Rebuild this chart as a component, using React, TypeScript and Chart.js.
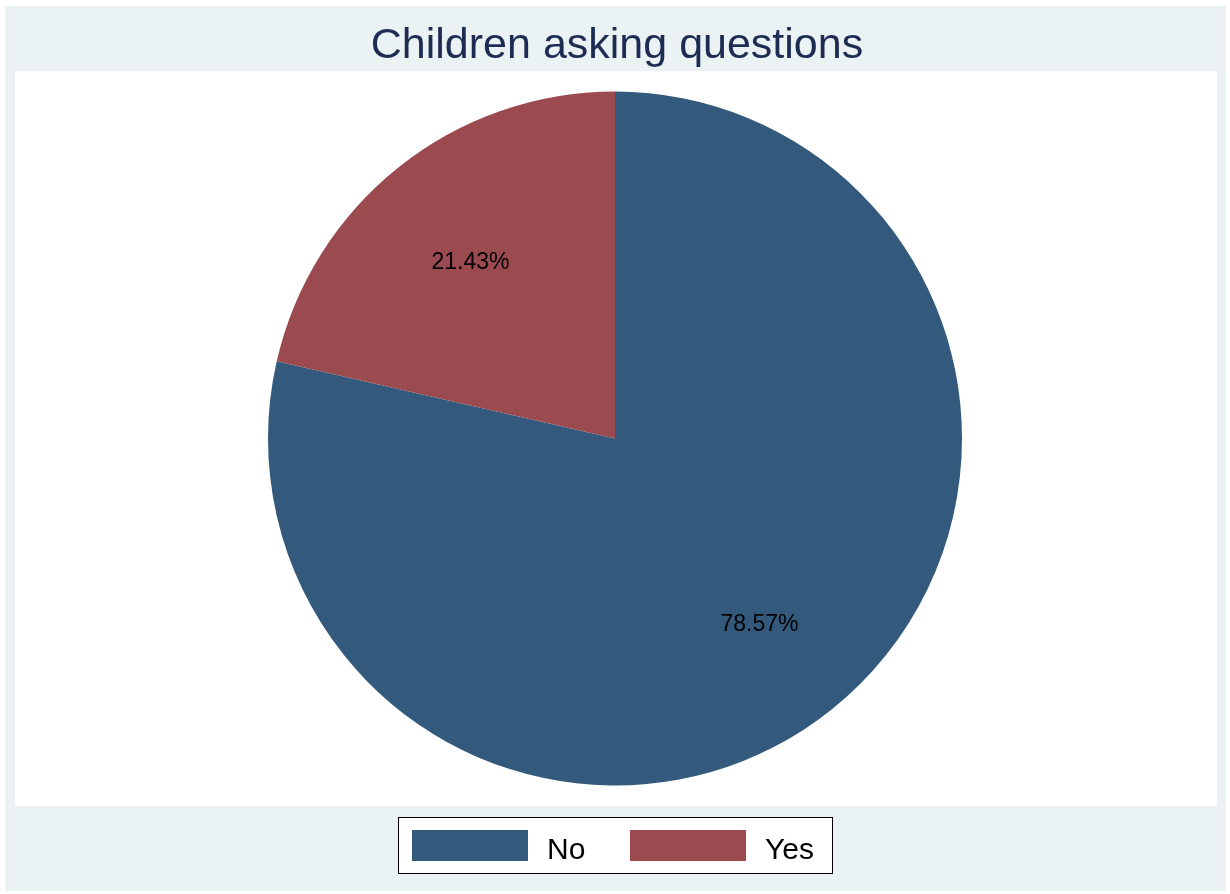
import React, { useEffect, useRef } from "react";
import { Chart, registerables } from "chart.js";

Chart.register(...registerables);

const categories = ["No", "Yes"];
const shares = [78.57, 21.43];
const labelsText = ["78.57%", "21.43%"];
const sliceColors = ["#335A7D", "#9B4A50"];
const titleText = "Children asking questions";

const FONT = '"Liberation Sans", Arial, Helvetica, sans-serif';

const framePlugin = {
  id: "stataFrame",
  beforeDraw(chart: any) {
    const ctx = chart.ctx;
    ctx.save();
    ctx.fillStyle = "#FFFFFF";
    ctx.fillRect(0, 0, chart.width, chart.height);
    ctx.fillStyle = "#EAF2F3";
    ctx.fillRect(5, 6, 1221, 885);
    ctx.fillStyle = "#FFFFFF";
    ctx.fillRect(15, 71, 1202, 735);
    // title
    ctx.fillStyle = "#1E2C54";
    ctx.font = `43px ${FONT}`;
    ctx.textAlign = "center";
    ctx.textBaseline = "alphabetic";
    ctx.fillText(titleText, 617, 58);
    // legend
    ctx.fillStyle = "#FFFFFF";
    ctx.fillRect(398.5, 817.5, 434, 56);
    ctx.strokeStyle = "#000000";
    ctx.lineWidth = 1;
    ctx.strokeRect(398.5, 817.5, 434, 56);
    const swX = [412, 630];
    const txX = [547, 765];
    ctx.font = `30px ${FONT}`;
    ctx.textAlign = "left";
    categories.forEach((c, i) => {
      ctx.fillStyle = sliceColors[i];
      ctx.fillRect(swX[i], 830, 116, 31);
      ctx.fillStyle = "#000000";
      ctx.fillText(c, txX[i], 859);
    });
    ctx.restore();
  },
  afterDatasetsDraw(chart: any) {
    const ctx = chart.ctx;
    const meta = chart.getDatasetMeta(0);
    ctx.save();
    ctx.fillStyle = "#000000";
    ctx.font = `23px ${FONT}`;
    ctx.textAlign = "center";
    ctx.textBaseline = "middle";
    meta.data.forEach((arc: any, i: number) => {
      const p = arc.getProps(["x", "y", "startAngle", "endAngle", "outerRadius"], true);
      const mid = (p.startAngle + p.endAngle) / 2;
      const r = p.outerRadius * 0.668;
      ctx.fillText(labelsText[i], p.x + Math.cos(mid) * r, p.y + Math.sin(mid) * r + 5);
    });
    ctx.restore();
  },
};

export default function App() {
  const ref = useRef<HTMLCanvasElement | null>(null);
  useEffect(() => {
    if (!ref.current) return;
    const chart = new Chart(ref.current, {
      type: "pie",
      data: {
        labels: categories,
        datasets: [
          {
            data: shares,
            backgroundColor: sliceColors,
            borderWidth: 0,
          },
        ],
      },
      options: {
        animation: false,
        responsive: false,
        maintainAspectRatio: false,
        layout: { padding: { left: 268, right: 268, top: 91, bottom: 108 } },
        plugins: {
          legend: { display: false },
          title: { display: false },
          tooltip: { enabled: false },
        },
      },
      plugins: [framePlugin],
    });
    return () => chart.destroy();
  }, []);
  return (
    <div style={{ position: "absolute", left: 0, top: 0, width: 1230, height: 894 }}>
      <canvas ref={ref} width={1230} height={894} style={{ display: "block", width: 1230, height: 894 }} />
    </div>
  );
}
